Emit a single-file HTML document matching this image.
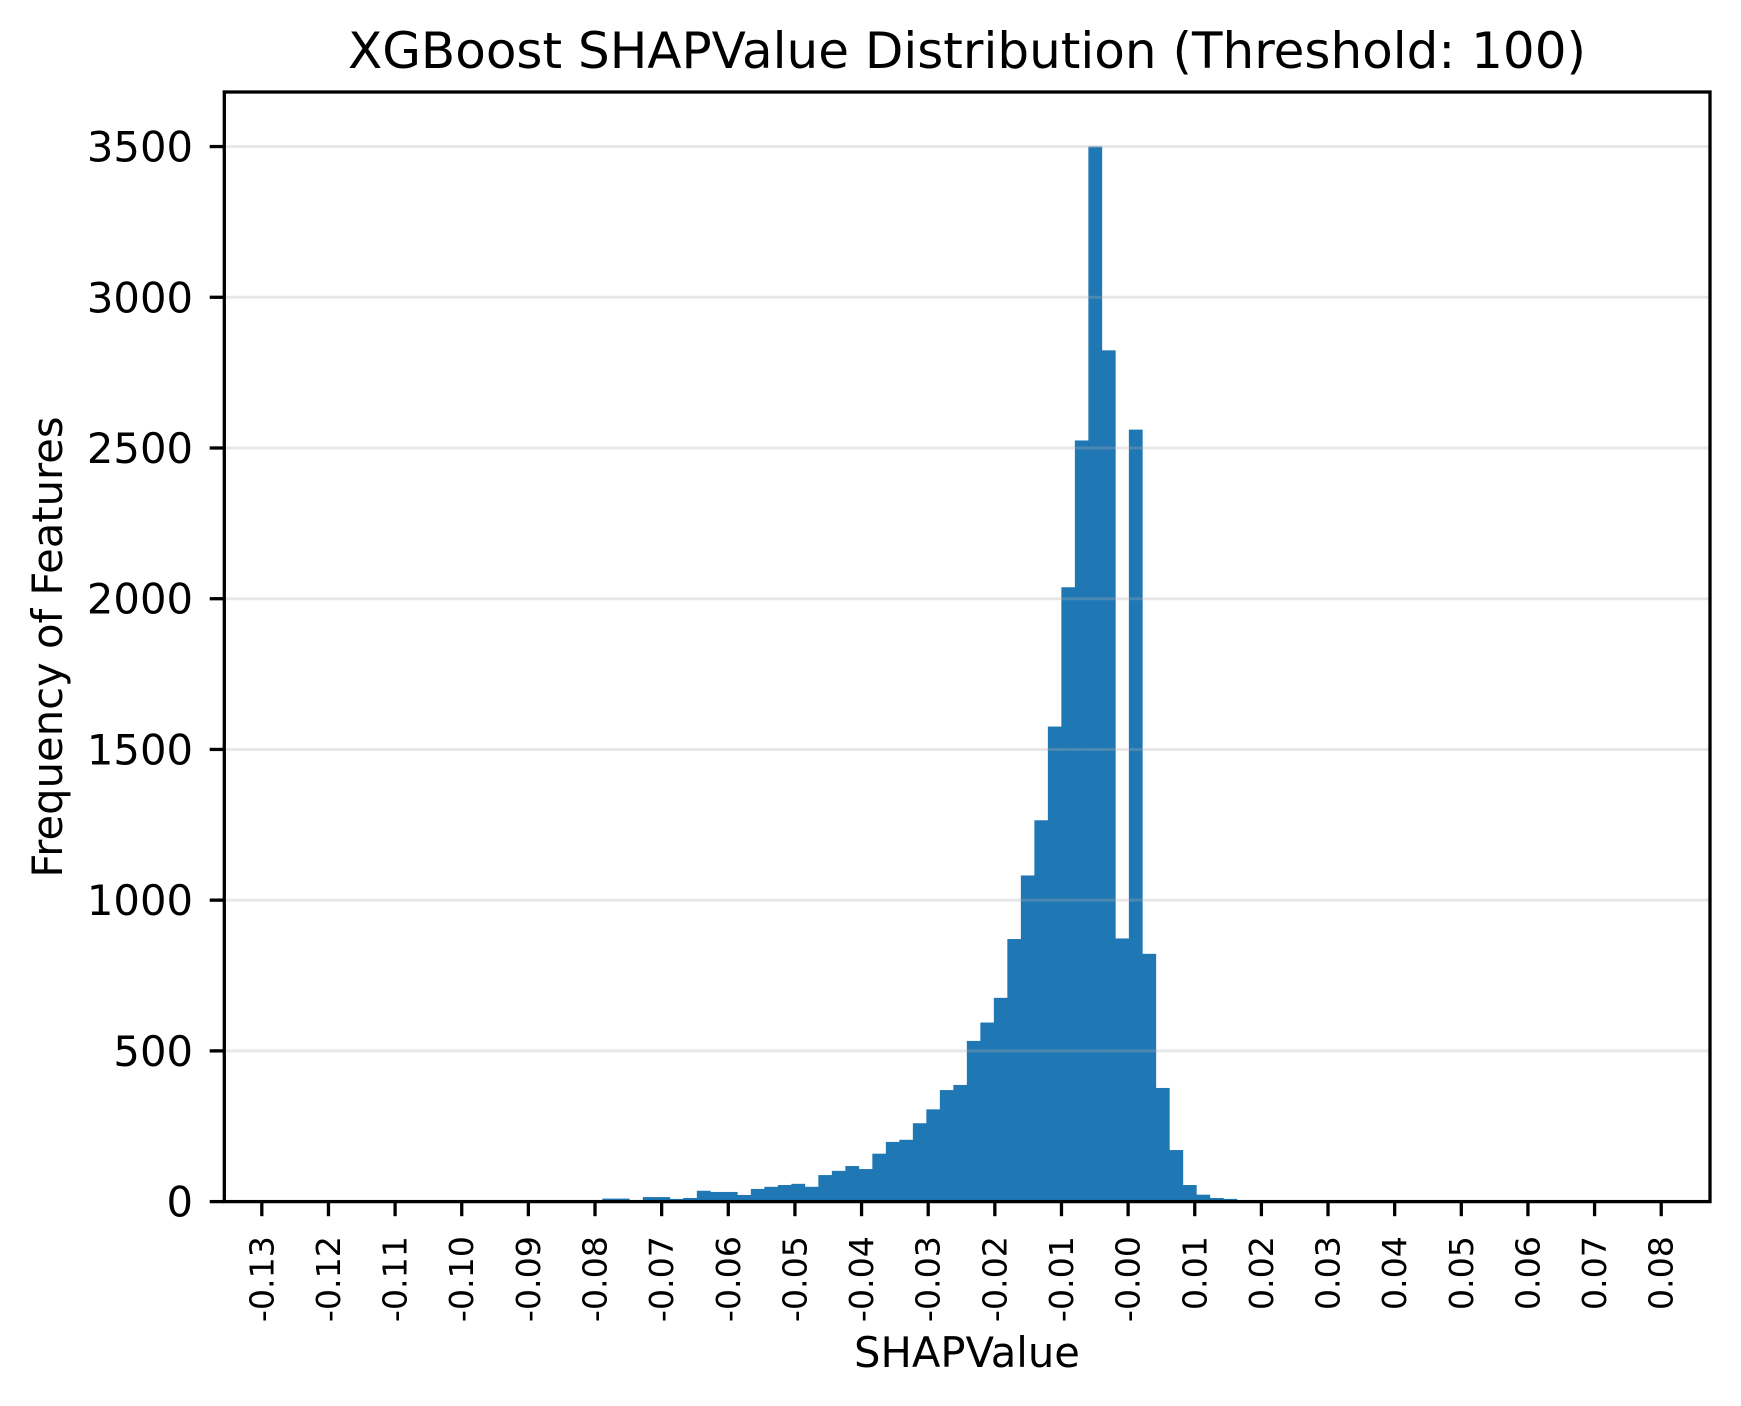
<!DOCTYPE html>
<html><head><meta charset="utf-8"><style>
body{margin:0;background:#fff}
svg{display:block;font-family:"DejaVu Sans","Liberation Sans",sans-serif}
</style></head><body>
<svg id="chart" width="1741" height="1406" viewBox="0 0 1741 1406" xmlns="http://www.w3.org/2000/svg">
<rect width="1741" height="1406" fill="#fff"/>
<text x="967" y="68" font-size="50" text-anchor="middle">XGBoost SHAPValue Distribution (Threshold: 100)</text>
<g id="bars"></g>
<g id="grid"></g>
<rect x="224.3" y="92" width="1485.7" height="1109.6" fill="none" stroke="#000" stroke-width="3.3"/>
<g id="yticks"></g>
<g id="xticks"></g>
<text x="967" y="1367" font-size="41.7" text-anchor="middle">SHAPValue</text>
<text transform="translate(62,647) rotate(-90)" font-size="41.7" text-anchor="middle">Frequency of Features</text>
</svg>
<script>
const binStart = -0.1255;
const binWidth = 0.002026;
const counts = [1,0,0,0,0,0,0,0,0,0,0,0,0,3,0,0,0,1,1,5,
5,5,2,10,10,5,15,15,9,12,36,32,32,22,42,49,55,59,49,88,
102,118,108,159,198,205,260,306,370,387,533,594,676,871,1082,1265,1576,2038,2525,3500,
2824,873,2561,822,377,171,55,23,12,9,5,2,0,0,0,0,0,0,0,0,
0,0,0,0,0,0,0,0,0,0,0,0,0,0,0,0,0,0,0,1];
const yTicks = [0,500,1000,1500,2000,2500,3000,3500];
const xTicks = [-0.13,-0.12,-0.11,-0.10,-0.09,-0.08,-0.07,-0.06,-0.05,-0.04,-0.03,-0.02,-0.01,0.00,0.01,0.02,0.03,0.04,0.05,0.06,0.07,0.08];
const xTickLabels = ["-0.13","-0.12","-0.11","-0.10","-0.09","-0.08","-0.07","-0.06","-0.05","-0.04","-0.03","-0.02","-0.01","-0.00","0.01","0.02","0.03","0.04","0.05","0.06","0.07","0.08"];

const NS="http://www.w3.org/2000/svg";
const X0=224.3,X1=1710,Y0=1201.6,Y1=92;
const xMin=-0.13563,xMax=0.08732,yMax=3681;
function sx(v){return X0+(v-xMin)/(xMax-xMin)*(X1-X0);}
function sy(v){return Y0-v/yMax*(Y0-Y1);}
function mk(t,a){const e=document.createElementNS(NS,t);for(const k in a)e.setAttribute(k,a[k]);return e;}

const bars=document.getElementById('bars');
counts.forEach((c,i)=>{
  if(c<=0)return;
  const l=sx(binStart+i*binWidth), r=sx(binStart+(i+1)*binWidth);
  const e=mk('rect',{x:l,y:sy(c),width:r-l+0.3,height:Y0-sy(c),fill:'#1f77b4'});
  
  
  bars.appendChild(e);
});
const grid=document.getElementById('grid'), yt=document.getElementById('yticks');
yTicks.forEach(v=>{
  const y=sy(v);
  if(v>0){
    const g=mk('line',{x1:X0,x2:X1,y1:y,y2:y,stroke:'#b0b0b0','stroke-opacity':0.3,'stroke-width':3});
    
    
    grid.appendChild(g);
  }
  const t=mk('line',{x1:X0-14.6,x2:X0,y1:y,y2:y,stroke:'#000','stroke-width':3.3});
  
  
  yt.appendChild(t);
  const l=mk('text',{x:193,y:y+15,'font-size':41.7,'text-anchor':'end'});
  l.textContent=String(v);
  
  
  yt.appendChild(l);
});
const xt=document.getElementById('xticks');
xTicks.forEach((v,i)=>{
  const x=sx(v);
  const t=mk('line',{x1:x,x2:x,y1:Y0,y2:Y0+14.6,stroke:'#000','stroke-width':3.3});
  
  
  xt.appendChild(t);
  const l=mk('text',{transform:`translate(${x+11.5},1236) rotate(-90)`,'font-size':33.3,'text-anchor':'end'});
  l.textContent=xTickLabels[i];
  
  
  xt.appendChild(l);
});
</script>
</body></html>
